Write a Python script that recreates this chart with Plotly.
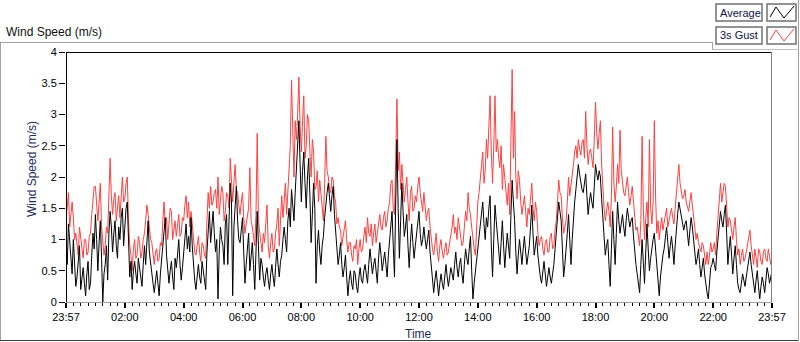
import plotly.graph_objects as go

# ---- data (minutes since 23:57, every 2.5 min) ----
minutes = [k / 2 for k in range(0, 2881, 5)]

average = [
    0.9, 0.6, 1.25, 1.0, 0.7, 0.45, 1.0, 0.5, 0.25, 0.4, 0.6, 0.9, 0.2, 0.35, 0.55, 0.3, 0.1, 0.45, 0.65, 0.2, 0.3, 0.75, 1.1, 0.85,
    1.4, 1.0, 0.5, 0.95, 1.3, 0.7, 0.0, 0.45, 0.6, 0.9, 0.35, 1.1, 1.45, 1.2, 0.8, 1.1, 1.3, 0.9, 0.7, 1.2, 1.0, 1.35, 1.5, 0.9,
    1.25, 1.5, 1.6, 0.9, 0.4, 0.65, 0.2, 0.5, 0.65, 0.45, 0.3, 0.7, 0.55, 0.4, 0.25, 0.6, 0.9, 0.6, 1.1, 1.3, 0.8, 0.6, 0.45, 0.3,
    0.15, 0.35, 0.5, 0.3, 0.1, 0.45, 0.7, 0.95, 1.15, 1.35, 0.75, 0.5, 0.3, 0.5, 0.65, 0.4, 0.2, 0.7, 0.55, 0.75, 1.0, 0.6, 0.35, 0.55,
    0.8, 1.1, 1.25, 0.85, 1.05, 0.8, 1.35, 0.9, 0.55, 0.35, 0.2, 0.45, 0.6, 0.4, 0.3, 0.65, 0.5, 0.35, 0.2, 0.8, 1.2, 1.45, 0.95, 1.2,
    1.45, 1.1, 0.8, 1.0, 0.05, 0.8, 1.2, 1.0, 0.9, 0.6, 1.25, 1.4, 0.6, 1.3, 1.9, 1.6, 0.1, 1.2, 1.6, 1.85, 1.3, 1.0, 0.95, 1.2,
    1.35, 0.8, 0.3, 0.6, 0.85, 1.1, 0.5, 0.75, 0.95, 0.6, 0.2, 0.8, 1.45, 0.9, 0.35, 0.7, 0.6, 0.4, 0.25, 0.45, 0.55, 0.35, 0.2, 0.45,
    0.6, 0.4, 0.25, 0.55, 0.85, 0.6, 0.4, 0.65, 0.75, 1.0, 1.2, 1.0, 0.8, 1.3, 1.5, 1.2, 1.8, 1.55, 1.3, 1.75, 2.1, 2.45, 2.9, 2.2,
    1.6, 2.1, 2.4, 1.9, 1.5, 2.0, 2.3, 1.7, 0.95, 1.4, 1.9, 1.5, 0.3, 0.9, 1.15, 0.8, 0.6, 0.9, 1.05, 1.35, 1.6, 1.75, 1.9, 1.6,
    1.45, 1.7, 1.85, 1.4, 1.1, 0.8, 0.6, 0.75, 0.95, 0.6, 0.4, 0.55, 0.75, 0.4, 0.1, 0.35, 0.5, 0.3, 0.2, 0.5, 0.45, 0.25, 0.15, 0.4,
    0.55, 0.35, 0.3, 0.5, 0.6, 0.45, 0.3, 0.6, 0.85, 0.65, 0.45, 0.6, 0.7, 0.5, 0.3, 0.7, 0.95, 0.75, 0.5, 0.65, 0.8, 0.6, 0.4, 0.75,
    1.0, 1.25, 1.45, 0.9, 0.4, 1.6, 2.6, 1.5, 0.7, 1.3, 1.9, 1.45, 1.05, 1.2, 1.4, 0.9, 0.55, 0.95, 1.25, 0.95, 0.7, 0.9, 1.1, 1.3,
    1.45, 1.1, 0.9, 1.0, 1.2, 1.0, 0.85, 1.0, 1.15, 0.8, 0.55, 0.3, 0.15, 0.35, 0.5, 0.3, 0.1, 0.3, 0.45, 0.3, 0.2, 0.4, 0.6, 0.4,
    0.25, 0.4, 0.55, 0.45, 0.35, 0.6, 0.8, 0.55, 0.4, 0.6, 0.7, 0.45, 0.3, 0.6, 0.85, 0.7, 0.6, 0.85, 1.05, 0.5, 0.05, 0.3, 0.5, 0.7,
    0.9, 1.1, 1.3, 1.45, 1.6, 1.25, 1.0, 1.35, 1.2, 1.5, 1.7, 0.9, 0.4, 1.0, 1.55, 1.3, 1.1, 0.8, 0.6, 0.95, 1.3, 0.9, 0.55, 0.85,
    1.1, 0.9, 0.7, 1.4, 1.95, 1.6, 1.3, 0.8, 0.45, 0.75, 1.0, 0.8, 0.6, 0.85, 1.05, 0.8, 0.6, 0.75, 0.9, 1.2, 1.55, 1.1, 0.75, 0.9,
    1.05, 0.75, 0.5, 0.4, 0.3, 0.5, 0.65, 0.45, 0.25, 0.4, 0.55, 0.4, 0.3, 0.45, 0.6, 0.85, 1.1, 1.35, 1.6, 1.45, 1.3, 0.85, 0.4, 0.6,
    0.8, 1.1, 1.4, 1.0, 0.6, 1.0, 1.4, 1.6, 1.8, 2.0, 2.2, 2.05, 1.9, 1.8, 1.75, 1.9, 2.05, 1.7, 1.4, 1.6, 1.75, 1.6, 1.5, 1.85,
    2.2, 2.05, 1.95, 2.1, 2.0, 1.65, 1.3, 1.0, 0.75, 0.9, 1.0, 0.6, 0.25, 0.85, 1.45, 1.0, 0.6, 1.1, 1.6, 1.3, 1.1, 1.25, 1.4, 1.2,
    1.05, 1.3, 1.5, 1.35, 1.2, 1.3, 1.35, 1.05, 0.75, 0.6, 0.45, 0.3, 0.15, 0.6, 1.0, 0.65, 0.3, 0.8, 1.25, 0.85, 0.5, 0.7, 0.9, 1.0,
    1.1, 0.85, 0.6, 0.35, 0.1, 0.4, 0.65, 0.75, 0.85, 1.0, 1.2, 0.95, 0.7, 0.9, 1.05, 0.85, 0.6, 0.9, 1.2, 1.4, 1.6, 1.5, 1.4, 1.25,
    1.15, 1.25, 1.3, 1.1, 0.9, 1.15, 1.35, 1.2, 1.0, 0.8, 0.6, 0.7, 0.85, 0.6, 0.4, 0.55, 0.7, 0.45, 0.25, 0.15, 0.05, 0.3, 0.55, 0.6,
    0.7, 0.6, 0.5, 0.8, 1.05, 1.25, 1.45, 1.3, 1.2, 1.4, 1.55, 1.1, 0.6, 0.85, 1.05, 0.75, 0.45, 0.7, 0.9, 0.6, 0.3, 0.2, 0.15, 0.3,
    0.45, 0.35, 0.25, 0.4, 0.55, 0.7, 0.8, 0.6, 0.45, 0.3, 0.15, 0.35, 0.5, 0.25, 0.05, 0.25, 0.4, 0.3, 0.15, 0.35, 0.55, 0.45, 0.3, 0.4,
    0.5,
]

gust = [
    1.3, 1.5, 1.75, 1.2, 1.45, 1.6, 1.35, 1.0, 1.1, 0.9, 0.75, 1.2, 1.05, 0.85, 0.7, 1.0, 1.0, 0.75, 0.8, 1.05, 1.1, 1.4, 1.6, 1.85,
    1.85, 1.5, 1.3, 1.6, 1.9, 1.2, 1.0, 0.75, 0.9, 1.2, 1.1, 1.6, 2.3, 1.7, 1.4, 1.65, 1.75, 1.3, 1.5, 1.7, 1.35, 1.8, 2.0, 1.6,
    1.65, 1.9, 2.0, 1.3, 0.9, 0.75, 0.5, 0.85, 1.0, 0.7, 0.75, 1.05, 0.95, 0.7, 0.8, 1.0, 1.1, 1.3, 1.55, 1.4, 1.2, 1.0, 0.95, 0.7,
    0.6, 0.8, 0.85, 0.65, 0.7, 0.95, 0.9, 1.3, 1.6, 1.2, 1.35, 1.0, 1.2, 1.5, 1.45, 1.0, 1.15, 1.3, 1.05, 1.2, 1.4, 1.05, 1.1, 1.35,
    1.3, 1.55, 1.7, 1.35, 1.6, 1.2, 1.45, 1.25, 1.0, 0.8, 0.75, 0.95, 1.05, 0.8, 0.65, 0.95, 0.9, 0.75, 0.7, 1.3, 1.75, 1.5, 1.85, 1.55,
    1.6, 1.75, 1.8, 1.5, 2.0, 1.4, 1.65, 1.85, 1.75, 1.3, 1.45, 1.75, 1.7, 1.5, 2.3, 1.8, 1.6, 1.9, 2.2, 1.8, 1.75, 1.55, 1.4, 1.6,
    1.75, 1.35, 1.1, 1.25, 1.35, 1.5, 2.15, 1.3, 1.2, 1.0, 0.9, 1.4, 2.7, 1.3, 1.05, 0.95, 0.8, 1.1, 0.95, 1.2, 1.55, 0.9, 0.7, 0.95,
    1.1, 0.8, 0.85, 1.1, 1.25, 1.5, 0.9, 1.3, 1.7, 1.35, 1.6, 1.9, 1.4, 1.75, 2.2, 2.5, 3.55, 2.6, 2.0, 2.9, 2.6, 3.0, 3.6, 2.8,
    2.4, 2.9, 3.3, 2.3, 2.5, 3.0, 2.9, 2.4, 2.0, 2.6, 2.4, 1.8, 1.85, 2.1, 1.6, 1.95, 1.75, 1.5, 1.3, 1.9, 2.65, 2.1, 2.0, 1.8,
    1.75, 2.0, 1.95, 1.7, 1.6, 1.25, 1.35, 1.2, 1.15, 0.9, 1.05, 1.2, 1.3, 1.0, 0.8, 0.95, 0.95, 0.75, 0.65, 0.9, 0.85, 1.0, 0.6, 0.85,
    1.0, 0.8, 0.85, 1.05, 1.2, 0.95, 1.35, 1.1, 1.05, 1.25, 0.9, 1.1, 1.25, 0.95, 1.1, 1.3, 1.4, 1.2, 1.15, 1.35, 1.45, 1.2, 1.3, 1.5,
    1.6, 1.9, 1.95, 1.5, 1.4, 2.3, 3.25, 2.1, 2.4, 1.8, 2.2, 1.9, 1.6, 1.8, 2.0, 1.6, 1.3, 1.75, 1.85, 1.45, 1.5, 1.7, 1.6, 1.85,
    2.0, 1.75, 1.6, 1.45, 1.75, 1.55, 1.3, 1.45, 1.5, 1.2, 1.0, 0.85, 0.75, 1.0, 1.1, 0.8, 0.65, 0.9, 1.0, 0.8, 0.7, 0.85, 0.95, 0.75,
    0.8, 0.95, 1.05, 1.2, 1.4, 1.1, 1.2, 1.0, 1.35, 1.2, 1.1, 0.9, 0.95, 1.2, 1.45, 1.3, 1.75, 1.5, 1.4, 1.2, 1.0, 0.85, 0.75, 1.2,
    1.6, 1.75, 2.0, 2.2, 2.4, 1.9, 2.1, 2.6, 2.3, 2.8, 3.3, 2.4, 1.9, 2.5, 3.3, 2.4, 2.6, 2.3, 2.15, 2.5, 1.8, 2.2, 2.0, 1.75,
    1.55, 1.9, 1.4, 2.6, 3.72, 2.3, 3.05, 2.0, 1.65, 2.1, 1.95, 1.6, 1.4, 1.55, 1.7, 1.45, 1.2, 1.5, 1.4, 1.65, 1.9, 1.5, 1.3, 1.6,
    1.45, 1.1, 0.9, 1.0, 1.05, 0.85, 0.75, 0.95, 1.0, 0.8, 0.8, 1.05, 1.1, 0.85, 0.9, 1.15, 1.3, 1.6, 1.95, 1.75, 1.7, 1.35, 1.1, 1.2,
    1.3, 1.6, 2.0, 1.7, 1.85, 2.05, 2.2, 2.4, 2.5, 2.3, 2.6, 2.45, 2.35, 2.55, 2.6, 2.3, 3.05, 2.5, 2.2, 2.4, 2.45, 2.3, 2.15, 2.6,
    3.2, 2.7, 2.45, 2.7, 2.9, 2.2, 1.75, 1.5, 1.3, 1.5, 1.6, 1.45, 1.2, 1.7, 2.8, 1.9, 1.6, 1.85, 2.2, 1.9, 2.75, 2.1, 1.9, 1.75,
    1.7, 1.85, 2.0, 1.75, 1.55, 1.7, 1.85, 1.6, 1.35, 1.15, 1.2, 1.05, 0.9, 1.3, 2.65, 1.5, 1.0, 1.35, 1.6, 1.2, 2.6, 1.5, 1.25, 1.6,
    2.9, 1.7, 1.1, 1.3, 1.0, 1.2, 1.35, 1.15, 1.25, 1.4, 1.5, 1.2, 1.3, 1.45, 1.5, 1.35, 1.25, 1.5, 1.75, 1.95, 2.2, 1.9, 1.8, 1.65,
    1.7, 1.8, 1.6, 1.5, 1.45, 1.6, 1.75, 1.55, 1.4, 1.2, 1.0, 1.1, 0.95, 0.85, 0.8, 0.95, 0.9, 0.75, 0.6, 0.8, 0.6, 0.75, 0.95, 0.8,
    0.85, 0.95, 0.75, 1.1, 1.4, 1.65, 1.9, 1.6, 1.75, 1.9, 1.85, 1.5, 1.2, 1.35, 1.3, 1.15, 1.0, 1.2, 1.35, 1.0, 0.75, 0.85, 0.6, 0.75,
    0.85, 0.65, 0.7, 0.8, 0.9, 1.05, 1.15, 0.9, 0.75, 0.6, 0.85, 0.7, 0.55, 0.85, 0.8, 0.65, 0.6, 0.8, 0.85, 0.7, 0.65, 0.85, 0.75, 0.6,
    0.75,
]

assert len(minutes) == len(average) == len(gust), (len(minutes), len(average), len(gust))

tick_minutes = [0, 120, 240, 360, 480, 600, 720, 840, 960, 1080, 1200, 1320, 1440]
tick_labels = ["23:57", "02:00", "04:00", "06:00", "08:00", "10:00", "12:00",
               "14:00", "16:00", "18:00", "20:00", "22:00", "23:57"]

series_names = ["Average", "3s Gust"]
series_colors = ["#000000", "#ff4040"]

# ---- layout geometry (pixels) ----
W, H = 800, 342
L, R, T, B = 66, 772, 52, 302
PW, PH = R - L, B - T


def px(x):
    return (x - L) / PW


def py(y):
    return (B - y) / PH


FONT = "Liberation Sans"

fig = go.Figure()
fig.add_trace(go.Scatter(x=minutes, y=gust, mode="lines", name=series_names[1],
                         line=dict(color=series_colors[1], width=1)))
fig.add_trace(go.Scatter(x=minutes, y=average, mode="lines", name=series_names[0],
                         line=dict(color=series_colors[0], width=1)))

shapes = []


def hline(x0, x1, y, color, w=1):
    shapes.append(dict(type="line", xref="paper", yref="paper", x0=px(x0), x1=px(x1),
                       y0=py(y), y1=py(y), line=dict(color=color, width=w), layer="above"))


def vline(x, y0, y1, color, w=1):
    shapes.append(dict(type="line", xref="paper", yref="paper", x0=px(x), x1=px(x),
                       y0=py(y0), y1=py(y1), line=dict(color=color, width=w), layer="above"))


# plot-area frame
hline(L, R, T + 0.5, "#000000")
vline(L + 0.5, T, B, "#000000")
hline(L, R, B + 0.5, "#a0a0a0")
vline(R - 0.5, T, B, "#808080")

# outer panel frame
hline(0, 712, 42.5, "#a0a0a0")
vline(0.5, 42, 341, "#a0a0a0")
hline(0, 799, 340.5, "#404040")
vline(798.5, 0, 341, "#a0a0a0")
vline(712.5, 42, 49, "#a0a0a0")
hline(712, 799, 49.5, "#c0c0c0")

# legend boxes
for i, (name, col) in enumerate(zip(series_names, series_colors)):
    y0 = 4 + 23 * i
    y1 = y0 + 17
    shapes.append(dict(type="rect", xref="paper", yref="paper", x0=px(716), x1=px(762),
                       y0=py(y1), y1=py(y0), line=dict(color="#707070", width=1.5),
                       fillcolor="white", layer="above"))
    shapes.append(dict(type="rect", xref="paper", yref="paper", x0=px(767), x1=px(796),
                       y0=py(y1), y1=py(y0), line=dict(color="#707070", width=1.5),
                       fillcolor="white", layer="above"))
    pts = [(770, y0 + 13), (776, y0 + 3), (784, y0 + 14), (794, y0 + 2)]
    path = "M " + " L ".join(f"{px(a):.5f},{py(b):.5f}" for a, b in pts)
    shapes.append(dict(type="path", xref="paper", yref="paper", path=path,
                       line=dict(color=col, width=1), layer="above"))

annotations = [
    dict(text="Wind Speed (m/s)", xref="paper", yref="paper", x=px(4), y=py(32),
         xanchor="left", yanchor="middle", showarrow=False,
         font=dict(family=FONT, size=12, color="#101010")),
    dict(text="Wind Speed (m/s)", xref="paper", yref="paper", x=px(32), y=py(169),
         xanchor="center", yanchor="middle", textangle=-90, showarrow=False,
         font=dict(family=FONT, size=12, color="#1c2c60")),
    dict(text="Time", xref="paper", yref="paper", x=px(418), y=py(334),
         xanchor="center", yanchor="middle", showarrow=False,
         font=dict(family=FONT, size=12, color="#1c2c60")),
]
for i, name in enumerate(series_names):
    annotations.append(dict(text=name, xref="paper", yref="paper", x=px(718),
                            y=py(12.5 + 23 * i), xanchor="left", yanchor="middle",
                            showarrow=False,
                            font=dict(family=FONT, size=11, color="#101040")))

fig.update_layout(
    width=W, height=H,
    margin=dict(l=L, r=W - R, t=T, b=H - B, pad=0),
    paper_bgcolor="white", plot_bgcolor="white",
    showlegend=False,
    font=dict(family=FONT, size=11, color="#000000"),
    shapes=shapes, annotations=annotations,
    xaxis=dict(range=[0, 1440], tickmode="array", tickvals=tick_minutes, ticktext=tick_labels,
               ticks="outside", ticklen=5, tickwidth=2, tickcolor="#000000",
               showgrid=False, zeroline=False, showline=False,
               tickfont=dict(family=FONT, size=11, color="#000000"),
               minor=dict(tickmode="linear", tick0=0, dtick=15, ticks="outside", ticklen=3,
                          tickwidth=1, tickcolor="#000000", showgrid=False)),
    yaxis=dict(range=[0, 4], tickmode="linear", tick0=0, dtick=0.5,
               ticks="outside", ticklen=6, tickwidth=1, tickcolor="#000000",
               showgrid=False, zeroline=False, showline=False,
               tickfont=dict(family=FONT, size=11, color="#000000")),
)

fig.write_html("out.html", config={"displayModeBar": False},
               post_script="document.body.style.margin='0';document.body.style.padding='0';")
